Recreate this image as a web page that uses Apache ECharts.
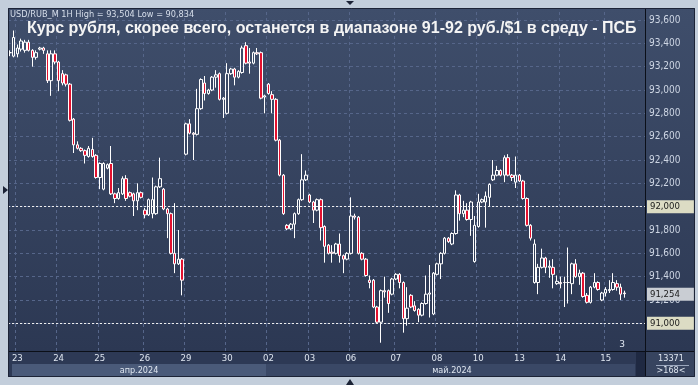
<!DOCTYPE html>
<html><head><meta charset="utf-8">
<script src="https://cdn.jsdelivr.net/npm/echarts@6/dist/echarts.min.js"></script>
<style>html,body{margin:0;padding:0;background:#c3cedb;overflow:hidden}#c{width:698px;height:385px}</style>
</head><body><div id="c"></div><script>
// ---- data ----
const headerText = 'USD/RUB_M 1H High = 93,504 Low = 90,834';
const titleText = 'Курс рубля, скорее всего, останется в диапазоне 91-92 руб./$1 в среду - ПСБ';
const dayLabels = ['23','24','25','26','29','30','02','03','06','07','08','10','13','14','15'];
const dayStart  = [2,13,24,36,47,58,69,80,91,103,114,125,136,147,159];
const monthLabels = ['апр.2024','май.2024'];
const yMin = 90.8, yMax = 93.6, yStep = 0.2;
const levelLines = [92, 91];
const lastPrice = 91.254;
const barsInfo = ['13371','>168<'];

const open = [93.32,93.29,93.31,93.35,93.34,93.41,93.34,93.28,93.35,93.36,93.31,93.08,93.31,93.24,93.14,93.13,93.05,92.75,92.53,92.50,92.48,92.43,92.49,92.44,92.25,92.15,92.33,92.37,92.11,92.07,92.11,92.24,92.12,92.11,92.05,92.12,91.97,91.93,91.94,91.94,92.17,92.15,91.98,91.94,91.60,91.51,91.55,
92.45,92.71,92.63,92.62,92.84,93.06,92.97,93.00,93.11,93.14,92.92,92.80,
93.14,93.18,93.11,93.15,93.38,93.24,93.23,93.32,93.32,92.94,
93.05,92.96,92.92,92.57,92.27,91.84,91.81,91.85,91.94,92.06,92.23,
92.10,92.04,91.97,92.06,91.83,91.67,91.61,91.60,91.68,91.58,91.55,
91.60,91.92,91.91,91.60,91.55,91.37,91.37,91.14,91.01,91.28,91.28,91.25,
91.38,91.42,91.35,91.04,91.24,91.15,91.12,91.07,91.17,91.25,91.08,
91.42,91.51,91.60,91.73,91.68,91.77,92.10,91.94,91.97,91.89,
91.53,91.83,92.04,92.04,92.08,92.23,92.27,92.31,92.27,92.42,92.27,
92.21,92.27,92.22,92.07,91.84,91.35,91.35,91.48,91.56,91.48,91.48,91.34,
91.35,91.35,91.35,91.34,91.51,91.40,91.43,91.24,91.18,91.31,91.35,
91.20,91.26,91.28,91.29,91.34,91.31,91.26];
const close = [93.32,93.45,93.36,93.42,93.41,93.34,93.28,93.32,93.36,93.34,93.08,93.31,93.24,93.08,93.06,93.05,92.74,92.53,92.50,92.48,92.44,92.50,92.43,92.25,92.37,92.37,92.36,92.11,92.07,92.12,92.24,92.07,92.09,92.05,92.12,92.08,91.93,92.06,92.06,92.17,92.24,91.98,91.94,91.60,91.51,91.55,91.37,
92.71,92.63,92.62,92.84,93.09,92.97,93.00,93.11,93.13,92.92,92.93,93.14,
93.18,93.11,93.16,93.36,93.23,93.23,93.32,93.31,92.93,92.95,
92.97,92.92,92.57,92.27,91.94,91.81,91.85,91.94,92.06,92.23,92.27,
92.04,91.97,92.06,91.82,91.66,91.60,91.60,91.68,91.58,91.55,91.60,
91.92,91.91,91.60,91.55,91.41,91.35,91.14,91.01,91.28,91.27,91.17,91.38,
91.42,91.35,91.04,91.13,91.14,91.11,91.07,91.17,91.25,91.26,91.43,
91.51,91.60,91.73,91.70,91.77,92.10,91.94,91.97,91.89,92.04,
91.84,92.04,92.06,92.09,92.19,92.27,92.31,92.27,92.42,92.27,92.25,
92.27,92.22,92.07,91.84,91.73,91.68,91.48,91.56,91.48,91.49,91.42,91.36,
91.34,91.35,91.35,91.51,91.40,91.43,91.23,91.18,91.31,91.35,91.29,
91.26,91.29,91.29,91.35,91.31,91.25,91.254];
const low = [93.29,93.28,93.28,93.33,93.32,93.33,93.20,93.26,93.34,93.31,93.06,92.95,93.22,92.99,93.04,93.03,92.73,92.46,92.49,92.47,92.37,92.42,92.42,92.24,92.15,92.14,92.32,92.10,92.03,92.06,92.10,92.05,92.08,91.92,91.97,92.07,91.90,91.92,91.90,91.93,92.16,91.97,91.73,91.59,91.43,91.50,91.24,
92.44,92.62,92.40,92.61,92.83,92.91,92.96,92.99,93.02,92.91,92.76,92.79,
93.13,93.04,93.10,93.14,93.22,93.14,93.22,93.30,92.92,92.80,
92.96,92.80,92.56,92.26,91.93,91.80,91.80,91.73,91.93,92.05,92.22,
92.03,91.86,91.96,91.71,91.52,91.59,91.52,91.59,91.52,91.43,91.54,
91.59,91.89,91.59,91.54,91.40,91.30,91.13,91.00,90.834,91.22,91.09,91.24,
91.37,91.30,90.92,90.98,91.13,91.10,91.01,91.06,91.16,91.05,91.07,
91.41,91.38,91.59,91.69,91.67,91.76,91.88,91.91,91.88,91.75,
91.52,91.82,92.03,91.82,92.00,92.22,92.26,92.26,92.21,92.26,92.22,
92.16,92.21,92.06,91.83,91.71,91.34,91.25,91.47,91.43,91.39,91.30,91.33,
91.30,91.14,91.17,91.25,91.39,91.33,91.22,91.17,91.17,91.30,91.28,
91.19,91.23,91.26,91.28,91.28,91.20,91.22];
const high = [93.34,93.51,93.39,93.44,93.43,93.43,93.35,93.34,93.37,93.37,93.34,93.34,93.34,93.25,93.17,93.14,93.06,92.76,92.56,92.51,92.49,92.52,92.59,92.45,92.38,92.38,92.37,92.52,92.12,92.16,92.26,92.27,92.13,92.12,92.20,92.13,91.99,92.07,92.25,92.18,92.42,92.16,91.99,91.95,92.03,91.80,91.56,
92.72,92.75,92.64,93.01,93.10,93.12,93.01,93.12,93.17,93.15,92.94,93.23,
93.19,93.19,93.17,93.38,93.41,93.36,93.33,93.36,93.33,92.96,
93.06,92.99,92.93,92.58,92.28,91.85,91.86,91.95,92.07,92.45,92.31,
92.11,92.05,92.07,92.07,91.84,91.68,91.67,91.69,91.77,91.59,91.61,
92.08,91.94,91.92,91.61,91.56,91.41,91.38,91.15,91.29,91.40,91.29,91.39,
91.43,91.43,91.36,91.31,91.25,91.19,91.13,91.18,91.41,91.50,91.44,
91.52,91.61,91.74,91.74,91.78,92.14,92.11,92.05,92.03,92.05,
91.92,92.11,92.07,92.13,92.20,92.40,92.35,92.32,92.44,92.45,92.28,
92.43,92.28,92.23,92.08,91.85,91.72,91.51,91.64,91.57,91.54,91.55,91.41,
91.40,91.40,91.65,91.52,91.55,91.46,91.44,91.26,91.32,91.43,91.36,
91.27,91.31,91.37,91.43,91.37,91.34,91.28];

// ---- build ----
const EXTRA = 5;
const N = open.length + EXTRA;
const categories = [];
for (let i = 0; i < N; i++) categories.push('bar' + i);
const candles = open.map((o, i) => [o, close[i], low[i], high[i]]);
const fmt = v => Number(v).toFixed(3).replace('.', ',');
const isDayStart = i => dayStart.indexOf(i) >= 0;

const gridCol = '#56668a';
const axisFont = '"DejaVu Sans Condensed", "DejaVu Sans"';
const chart = echarts.init(document.getElementById('c'), null, {renderer: 'canvas'});

const tagLabel = (value, bg) => ({
  show: true, position: 'end', distance: 2,
  formatter: () => fmt(value),
  backgroundColor: bg, color: '#1b1b1b', fontSize: 9.5, fontFamily: axisFont,
  padding: [2, 14, 1, 3], borderRadius: 0
});

const option = {
  backgroundColor: '#c3cedb',
  animation: false,
  graphic: [
    {type: 'rect', z: -20, shape: {x: 8, y: 8, width: 687, height: 343},
     style: {fill: new echarts.graphic.LinearGradient(0, 0, 0, 1, [{offset: 0, color: '#3f4e6b'}, {offset: 1, color: '#2c3853'}])}},
    {type: 'rect', z: -19, shape: {x: 8, y: 351, width: 637, height: 26}, style: {fill: '#2d3955'}},
    {type: 'rect', z: -18, shape: {x: 12, y: 364, width: 254, height: 12}, style: {fill: '#4a5a79'}},
    {type: 'rect', z: -18, shape: {x: 266, y: 364, width: 369, height: 12}, style: {fill: '#3a4866'}},
    {type: 'rect', z: -18, shape: {x: 636, y: 352, width: 9, height: 25}, style: {fill: '#1f2942'}},
    {type: 'rect', z: -19, shape: {x: 646, y: 351, width: 49, height: 26}, style: {fill: '#37445f'}},
    {type: 'line', z: 50, shape: {x1: 645.5, y1: 8, x2: 645.5, y2: 377}, style: {stroke: '#0b0f18', lineWidth: 1}},
    {type: 'line', z: 50, shape: {x1: 8, y1: 351.5, x2: 695, y2: 351.5}, style: {stroke: '#0b0f18', lineWidth: 1}},
    {type: 'rect', z: 50, shape: {x: 8.5, y: 8.5, width: 686, height: 368}, style: {fill: null, stroke: '#1c2336', lineWidth: 1}},
    {type: 'line', z: 50, shape: {x1: 656, y1: 365.5, x2: 689, y2: 365.5}, style: {stroke: '#9aa6bd', lineWidth: 1}},
    {type: 'polygon', z: 50, shape: {points: [[3, 186], [8, 190], [3, 194]]}, style: {fill: '#1c2336'}},
    {type: 'polygon', z: 50, shape: {points: [[346, 1], [354, 1], [350, 5]]}, style: {fill: '#1c2336'}},
    {type: 'polygon', z: 50, shape: {points: [[346, 385], [354, 385], [350, 379]]}, style: {fill: '#1c2336'}},
    {type: 'text', z: 60, style: {x: 10, y: 15, text: headerText, fill: '#d6deea', font: '8.2px "DejaVu Sans"', textVerticalAlign: 'middle'}},
    {type: 'text', z: 60, style: {x: 27, y: 29, text: titleText, fill: '#f4f4f4', font: 'bold 16px "Liberation Sans", Arial', textVerticalAlign: 'middle'}},
    {type: 'text', z: 60, style: {x: 139, y: 370.5, text: monthLabels[0], fill: '#dfe6f0', font: '9px ' + axisFont, textAlign: 'center', textVerticalAlign: 'middle'}},
    {type: 'text', z: 60, style: {x: 452, y: 370.5, text: monthLabels[1], fill: '#dfe6f0', font: '9px ' + axisFont, textAlign: 'center', textVerticalAlign: 'middle'}},
    {type: 'text', z: 60, style: {x: 671, y: 358.5, text: barsInfo[0], fill: '#dfe6f0', font: '9px ' + axisFont, textAlign: 'center', textVerticalAlign: 'middle'}},
    {type: 'text', z: 60, style: {x: 671, y: 371, text: barsInfo[1], fill: '#dfe6f0', font: '9px ' + axisFont, textAlign: 'center', textVerticalAlign: 'middle'}},
    {type: 'text', z: 60, style: {x: 622, y: 345, text: '3', fill: '#dfe6f0', font: '9px "DejaVu Sans"', textAlign: 'center', textVerticalAlign: 'middle'}}
  ],
  grid: [
    {left: 8, right: 53, top: 20, bottom: 385 - 346.67},
    {left: 8, right: 53, top: 12, bottom: 34}
  ],
  xAxis: [
    {gridIndex: 0, type: 'category', data: categories, boundaryGap: true,
     axisLine: {show: false}, axisTick: {show: false}, axisLabel: {show: false}, splitLine: {show: false}},
    {gridIndex: 1, type: 'category', data: categories, boundaryGap: true,
     axisLine: {show: false}, axisTick: {show: false},
     axisLabel: {interval: (i) => isDayStart(i), formatter: (v, i) => dayLabels[dayStart.indexOf(i)],
                 color: '#dfe6f0', fontSize: 9.5, fontFamily: axisFont, margin: 3},
     splitLine: {show: true, interval: (i) => isDayStart(i), lineStyle: {color: gridCol, type: [3, 3], width: 1}}}
  ],
  yAxis: [
    {gridIndex: 0, type: 'value', position: 'right', min: yMin, max: yMax, interval: yStep,
     axisLine: {show: false}, axisTick: {show: false},
     axisLabel: {color: '#cdd5e3', fontSize: 10, fontFamily: axisFont, margin: 4, showMinLabel: false, formatter: v => fmt(v)},
     splitLine: {show: true, showMinLine: false, lineStyle: {color: gridCol, type: [3, 3], width: 1}}},
    {gridIndex: 1, type: 'value', show: false}
  ],
  series: [{
    type: 'candlestick', xAxisIndex: 0, yAxisIndex: 0, data: candles, barWidth: 3,
    itemStyle: {color: 'rgba(0,0,0,0)', color0: '#e3112f', borderColor: '#ffffff', borderColor0: '#ffffff', borderWidth: 1},
    markLine: {
      symbol: 'none', silent: true, animation: false,
      data: [
        {yAxis: levelLines[0], lineStyle: {color: '#eeeeee', type: [2, 2], width: 1}, label: tagLabel(levelLines[0], '#dcdcc4')},
        {yAxis: levelLines[1], lineStyle: {color: '#eeeeee', type: [2, 2], width: 1}, label: tagLabel(levelLines[1], '#dcdcc4')},
        {yAxis: lastPrice, lineStyle: {color: 'rgba(0,0,0,0)', width: 1}, label: tagLabel(lastPrice, '#c9cdd3')}
      ]
    }
  }]
};
chart.setOption(option);
</script></body></html>
